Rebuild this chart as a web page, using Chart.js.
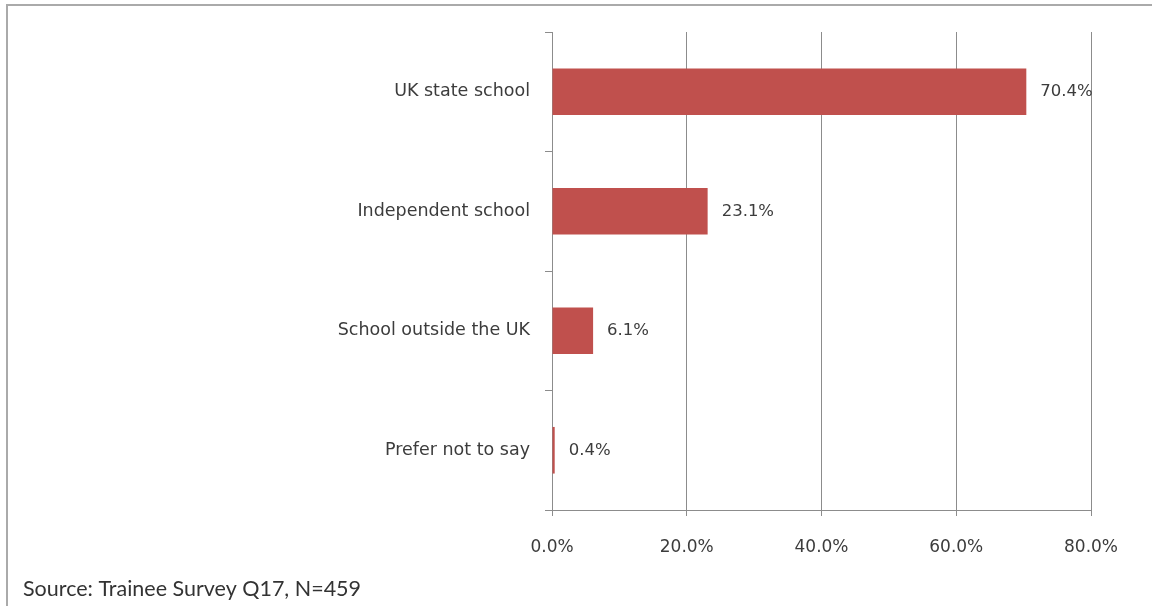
<!DOCTYPE html>
<html>
<head>
<meta charset="utf-8">
<script src="https://cdn.jsdelivr.net/npm/chart.js@4/dist/chart.umd.min.js"></script>
<style>
  html, body { margin: 0; padding: 0; background: #fff; }
  #wrap { position: relative; width: 1152px; height: 606px; overflow: hidden; }
  #frame { position: absolute; left: 6px; top: 4px; right: -10px; bottom: -10px;
           border-left: 2px solid #aaaaaa; border-top: 2px solid #aaaaaa; pointer-events: none; }
  canvas { position: absolute; left: 0; top: 0; }
</style>
</head>
<body>
<div id="wrap">
  <canvas id="chart" width="1152" height="606"></canvas>
  <div id="frame"></div>
</div>
<script>
// Where trainees went to school (share of respondents, %)
const categories = ['UK state school', 'Independent school', 'School outside the UK', 'Prefer not to say'];
const shares = [70.4, 23.1, 6.1, 0.4];
const xTicks = [0, 20, 40, 60, 80];
const sourceNote = 'Source: Trainee Survey Q17, N=459';

const textColor = '#3c3c3c';
const gridColor = '#8c8c8c';
const labelFont = 'DejaVu Sans';

// Value labels to the right of each bar
const barValueLabels = {
  id: 'barValueLabels',
  afterDatasetsDraw(chart) {
    const ctx = chart.ctx;
    const meta = chart.getDatasetMeta(0);
    ctx.save();
    ctx.font = '16.5px "' + labelFont + '"';
    ctx.fillStyle = textColor;
    ctx.textAlign = 'left';
    ctx.textBaseline = 'middle';
    meta.data.forEach((bar, i) => {
      ctx.fillText(shares[i].toFixed(1) + '%', bar.x + 14, bar.y);
    });
    ctx.restore();
  }
};

// Source line beneath the axis
const sourceLine = {
  id: 'sourceLine',
  afterDraw(chart) {
    const ctx = chart.ctx;
    ctx.save();
    ctx.font = '21.5px Lato';
    ctx.fillStyle = '#333333';
    ctx.textAlign = 'left';
    ctx.textBaseline = 'middle';
    ctx.fillText(sourceNote, 23, 589);
    ctx.restore();
  }
};

new Chart(document.getElementById('chart'), {
  type: 'bar',
  data: {
    labels: categories,
    datasets: [{
      data: shares,
      backgroundColor: '#c0504d',
      borderWidth: 0,
      barPercentage: 0.39,
      categoryPercentage: 1.0
    }]
  },
  options: {
    indexAxis: 'y',
    responsive: false,
    animation: false,
    events: [],
    layout: { padding: { left: 10, right: 61, top: 32, bottom: 0 } },
    plugins: { legend: { display: false }, tooltip: { enabled: false } },
    scales: {
      x: {
        min: 0,
        max: 80,
        afterBuildTicks(scale) { scale.ticks = xTicks.map(v => ({ value: v })); },
        afterFit(scale) { scale.height = 96; },
        grid: { color: gridColor, lineWidth: 1, drawTicks: true, tickLength: 6, tickColor: gridColor },
        border: { display: true, color: gridColor, width: 1 },
        ticks: {
          padding: 21,
          color: textColor,
          font: { family: labelFont, size: 17 },
          callback: v => Number(v).toFixed(1) + '%'
        }
      },
      y: {
        offset: true,
        afterFit(scale) { scale.width = 542; },
        grid: { offset: true, drawOnChartArea: false, drawTicks: true, tickLength: 7, color: gridColor },
        border: { display: true, color: gridColor, width: 1 },
        ticks: {
          padding: 15,
          color: textColor,
          font: { family: labelFont, size: 17.5 }
        }
      }
    }
  },
  plugins: [barValueLabels, sourceLine]
});
</script>
</body>
</html>
